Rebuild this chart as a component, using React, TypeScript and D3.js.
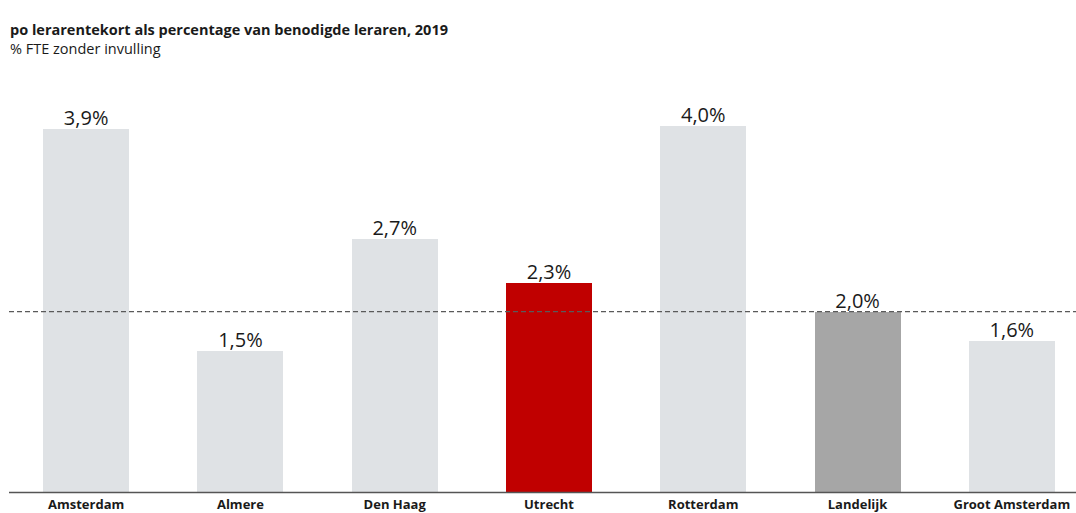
import React, { useEffect, useRef } from "react";
import * as d3 from "d3";

// data
const categories = [
  "Amsterdam",
  "Almere",
  "Den Haag",
  "Utrecht",
  "Rotterdam",
  "Landelijk",
  "Groot Amsterdam",
];
const shortage = [3.92, 1.52, 2.74, 2.26, 3.96, 1.95, 1.63]; // % FTE
const referenceCategory = "Landelijk"; // dashed reference line
const highlight = "Utrecht";

const title = "po lerarentekort als percentage van benodigde leraren, 2019";
const subtitle = "% FTE zonder invulling";

export default function App() {
  const svgRef = useRef<SVGSVGElement>(null);
  const width = 1076;
  const height = 513;

  useEffect(() => {
    const svg = d3.select(svgRef.current);
    svg.selectAll("*").remove();

    const font = "'Open Sans', 'Noto Sans', sans-serif";
    const baseY = 492;

    const x = d3
      .scaleBand<string>()
      .domain(categories)
      .range([9, 1089])
      .paddingInner(0.443)
      .paddingOuter(0.2215);

    const y = d3.scaleLinear().domain([0, 5]).range([baseY, baseY - 462.5]);

    const fmt = (v: number) =>
      (Math.round(v * 10) / 10).toFixed(1).replace(".", ",") + "%";

    const color = (c: string) =>
      c === highlight ? "#c00000" : c === referenceCategory ? "#a6a6a6" : "#dfe2e5";

    // titles
    svg
      .append("text")
      .attr("x", 10)
      .attr("y", 35)
      .style("font-family", font)
      .style("font-size", "14.5px")
      .style("font-weight", "bold")
      .style("fill", "#1a1a1a")
      .text(title);

    svg
      .append("text")
      .attr("x", 10)
      .attr("y", 54)
      .style("font-family", font)
      .style("font-size", "14.5px")
      .style("fill", "#1a1a1a")
      .text(subtitle);

    const data = categories.map((c, i) => ({ c, v: shortage[i] }));

    // bars
    svg
      .selectAll(".bar")
      .data(data)
      .enter()
      .append("rect")
      .attr("class", "bar")
      .attr("x", (d) => x(d.c)!)
      .attr("y", (d) => y(d.v))
      .attr("width", x.bandwidth())
      .attr("height", (d) => baseY - y(d.v))
      .attr("fill", (d) => color(d.c))
      .style("shape-rendering", "crispEdges");

    // value labels
    svg
      .selectAll(".val")
      .data(data)
      .enter()
      .append("text")
      .attr("class", "val")
      .attr("x", (d) => x(d.c)! + x.bandwidth() / 2)
      .attr("y", (d) => y(d.v) - 4)
      .attr("text-anchor", "middle")
      .style("font-family", font)
      .style("font-size", "20px")
      .style("fill", "#1a1a1a")
      .text((d) => fmt(d.v));

    // dashed reference line at national level
    const refVal = shortage[categories.indexOf(referenceCategory)];
    svg
      .append("line")
      .attr("x1", 9)
      .attr("x2", width)
      .attr("y1", y(refVal))
      .attr("y2", y(refVal))
      .attr("stroke", "#5a5a5a")
      .attr("stroke-width", 1.2)
      .attr("stroke-dasharray", "5,3");

    // baseline
    svg
      .append("line")
      .attr("x1", 9)
      .attr("x2", width)
      .attr("y1", baseY + 0.5)
      .attr("y2", baseY + 0.5)
      .attr("stroke", "#555")
      .attr("stroke-width", 1.5);

    // category labels
    svg
      .selectAll(".cat")
      .data(categories)
      .enter()
      .append("text")
      .attr("class", "cat")
      .attr("x", (d) => x(d)! + x.bandwidth() / 2)
      .attr("y", 509)
      .attr("text-anchor", "middle")
      .style("font-family", font)
      .style("font-size", "13px")
      .style("font-weight", "bold")
      .style("fill", "#1a1a1a")
      .text((d) => d);
  }, []);

  return (
    <svg
      ref={svgRef}
      width={width}
      height={height}
      style={{ position: "absolute", left: 0, top: 0, display: "block", background: "#fff" }}
    ></svg>
  );
}
